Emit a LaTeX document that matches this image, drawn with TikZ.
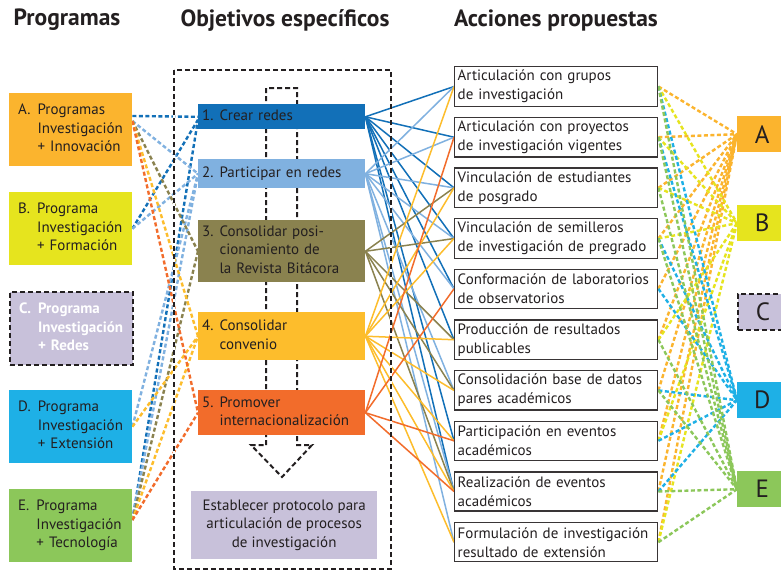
\documentclass[tikz,border=0pt]{standalone}
\usepackage{fontspec}
\setmainfont{PT Sans}
\usetikzlibrary{calc}
\pgfdeclarelayer{bg}
\pgfsetlayers{bg,main}
\definecolor{ink}{HTML}{231F20}
\definecolor{cA}{HTML}{FBB42E}
\definecolor{cB}{HTML}{E6E41E}
\definecolor{cC}{HTML}{C8C1DA}
\definecolor{cD}{HTML}{1EB0E6}
\definecolor{cE}{HTML}{8CC75A}
\definecolor{oA}{HTML}{1270B8}
\definecolor{oB}{HTML}{80B1E0}
\definecolor{oC}{HTML}{8A824F}
\definecolor{oD}{HTML}{FDBD2C}
\definecolor{oE}{HTML}{F26C2B}
\newcommand\myplist[4]{\begin{tabular}{@{}l@{\hspace{7pt}}l@{}}#1&#2\\&#3\\&#4\end{tabular}}
\begin{document}
\begin{tikzpicture}[x=1pt,y=-1pt,
  hdr/.style={font=\fontsize{23.5}{23.5}\selectfont\bfseries, text=ink},
  prog/.style={minimum width=123pt, minimum height=73pt, anchor=north west, inner xsep=9pt, text width=105pt, align=left, text=ink, font=\fontsize{15}{18.5}\selectfont},
  obj/.style={minimum width=167pt, anchor=north west, inner xsep=4pt, text width=159pt, align=left, text=ink, font=\fontsize{15}{18.5}\selectfont},
  act/.style={draw=ink!90, line width=1.4pt, minimum width=203pt, minimum height=39pt, anchor=north west, inner xsep=3pt, text width=197pt, align=left, text=ink, font=\fontsize{15}{19}\selectfont},
  letbox/.style={minimum width=50pt, minimum height=36pt, anchor=north west, text=ink, font=\fontsize{25}{25}\selectfont},
  ld/.style={line width=2.4pt, dash pattern=on 4pt off 2.5pt},
  rs/.style={line width=1.5pt},
  rd/.style={line width=2.4pt, dash pattern=on 4pt off 2.5pt},
  frame/.style={draw=ink, line width=2pt, dash pattern=on 5pt off 3pt}
]
\clip (0,0) rectangle (781,571);

% headers
\node[hdr] (h1) at (67,20) {Programas};
\node[hdr] (h2) at (285,20) {Objetivos específicos};
\node[hdr] (h3) at (556,20) {Acciones propuestas};

% programs
\node[prog, fill=cA] (A) at (9,93) {\myplist{A.}{Programas}{Investigación}{+ Innovación}};
\node[prog, fill=cB] (B) at (9,192) {\myplist{B.}{Programa}{Investigación}{+ Formación}};
\node[prog, fill=cC, draw=ink, line width=2pt, dash pattern=on 5pt off 3pt, text=white, font=\fontsize{15}{18.5}\selectfont\bfseries] (C) at (9,291) {\myplist{C.}{Programa}{Investigación}{+ Redes}};
\node[prog, fill=cD] (D) at (9,390) {\myplist{D.}{Programa}{Investigación}{+ Extensión}};
\node[prog, fill=cE] (E) at (9,489) {\myplist{E.}{Programa}{Investigación}{+ Tecnología}};

% objectives
\node[obj, fill=oA, minimum height=24pt] (O1) at (198,104) {\begin{tabular}{@{}l@{\hspace{6pt}}l@{}}1.&Crear redes\end{tabular}};
\node[obj, fill=oB, minimum height=29pt] (O2) at (198,159) {\begin{tabular}{@{}l@{\hspace{6pt}}l@{}}2.&Participar en redes\end{tabular}};
\node[obj, fill=oC, minimum height=62pt] (O3) at (198,220) {\begin{tabular}{@{}l@{\hspace{6pt}}l@{}}3.&Consolidar posi-\\&cionamiento de\\&la Revista Bitácora\end{tabular}};
\node[obj, fill=oD, minimum height=48pt] (O4) at (198,312) {\begin{tabular}{@{}l@{\hspace{6pt}}l@{}}4.&Consolidar\\&convenio\end{tabular}};
\node[obj, fill=oE, minimum height=45pt] (O5) at (198,390) {\begin{tabular}{@{}l@{\hspace{6pt}}l@{}}5.&Promover\\&internacionalización\end{tabular}};
\node[fill=cC, minimum width=186pt, minimum height=68pt, anchor=north west, align=center, text=ink, font=\fontsize{15}{18.5}\selectfont] (P) at (191,491) {Establecer protocolo para\\articulación de procesos\\de investigación};

% actions
\node[act] (a1) at (454,66) {Articulación con grupos\\de investigación};
\node[act] (a2) at (454,116.7) {Articulación con proyectos\\de investigación vigentes};
\node[act] (a3) at (454,167.3) {Vinculación de estudiantes\\de posgrado};
\node[act] (a4) at (454,218) {Vinculación de semilleros\\de investigación de pregrado};
\node[act] (a5) at (454,268.6) {Conformación de laboratorios\\de observatorios};
\node[act] (a6) at (454,319.3) {Producción de resultados\\publicables};
\node[act] (a7) at (454,370) {Consolidación base de datos\\pares académicos};
\node[act] (a8) at (454,420.6) {Participación en eventos\\académicos};
\node[act] (a9) at (454,471.3) {Realización de eventos\\académicos};
\node[act] (a10) at (454,522) {Formulación de investigación\\resultado de extensión};

% letters
\node[letbox, fill=cA] (LA) at (737,116) {A};
\node[letbox, fill=cB] (LB) at (737,205) {B};
\node[letbox, fill=cC, draw=ink, line width=2pt, dash pattern=on 5pt off 3pt] (LC) at (737,293) {C};
\node[letbox, fill=cD] (LD) at (737,382) {D};
\node[letbox, fill=cE] (LE) at (737,471) {E};

\begin{pgfonlayer}{bg}
\fill[white] (0,0) rectangle (781,571);
% left dashed connectors
\coordinate (pA) at ($(A.north east)+(0,28)$);
\coordinate (pA1) at ($(A.north east)+(0,23)$);
\coordinate (pE) at ($(E.north east)+(0,31)$);
\draw[ld, oA] (pA1) -- (O1.west);
\draw[ld, oA] (B.east) -- ($(O1.west)+(0,3)$);
\draw[ld, oA] (pE) -- ($(O1.west)+(0,3)$);
\draw[ld, oB] (pA) -- (O2.west);
\draw[ld, oB] (B.east) -- (O2.west);
\draw[ld, oB] (D.east) -- (O2.west);
\draw[ld, oB] (pE) -- (O2.west);
\draw[ld, oC] (pA) -- (O3.west);
\draw[ld, oC] (pE) -- (O3.west);
\draw[ld, oD] (pA) -- (O4.west);
\draw[ld, oD] (D.east) -- (O4.west);
\draw[ld, oD] (pE) -- (O4.west);
\draw[ld, oE] (pA) -- (O5.west);
\draw[ld, oE] (pE) -- (O5.west);

% right solid connectors
\foreach \t in {1,2,3,4,5,6,8,9} \draw[rs, oA] (O1.east) -- (a\t.west);
\foreach \t in {1,2,3,4,5,7,9,10} \draw[rs, oB] (O2.east) -- (a\t.west);
\foreach \t in {3,4,6,7,9} \draw[rs, oC] (O3.east) -- (a\t.west);
\foreach \t in {1,3,4,6,7,8,9,10} \draw[rs, oD] (O4.east) -- (a\t.west);
\foreach \t in {2,5,8,9} \draw[rs, oE] (O5.east) -- (a\t.west);

% far right dashed connectors
\foreach \t in {1,2,3,4,5,6,7,8,9,10} \draw[rd, cA] (a\t.east) -- (LA.west);
\foreach \t in {1,2,3,4,6,8,10} \draw[rd, cB] (a\t.east) -- (LB.west);
\foreach \t in {1,2,4,5,7,8,9} \draw[rd, cD] (a\t.east) -- (LD.west);
\foreach \t in {1,2,3,4,6,7,9,10} \draw[rd, cE] (a\t.east) -- (LE.west);

% frame and arrow
\draw[white, line width=2pt] (174,70) rectangle (391,569);
\draw[frame] (174,70) rectangle (391,569);
\draw[frame] (266,445) -- (266,88) -- (297,88) -- (297,445) -- (312,445) -- (282,477) -- (251,445) -- cycle;
\end{pgfonlayer}
\end{tikzpicture}
\end{document}
